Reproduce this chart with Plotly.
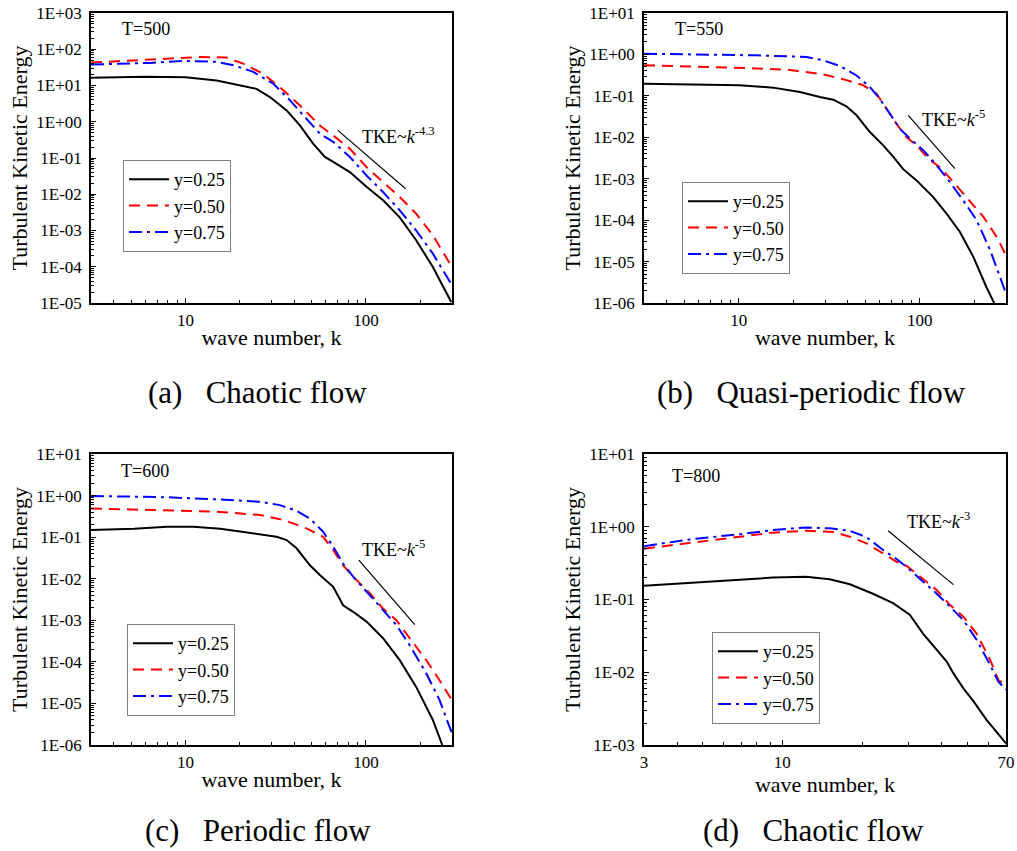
import math
import plotly.graph_objects as go

FONT = "Liberation Serif, Times New Roman, serif"
W, H = 1017, 851

# ---------------- data: turbulent kinetic energy spectra ----------------
series_names = ["y=0.25", "y=0.50", "y=0.75"]

# (a) T=500
k_a1 = [3, 6, 10, 14.9, 24.8, 29.4, 36.4, 43.1, 51, 59.3, 65.9, 81.5, 100.8, 124.5, 154, 190, 235, 297]
e_a1 = [16.4, 17.5, 17, 13.8, 8.1, 4.8, 2.05, 0.79, 0.25, 0.107, 0.078, 0.041, 0.016, 0.0068, 0.0023, 5.4e-4, 9.8e-5, 1.07e-5]
k_a2 = [3, 6.4, 12.1, 16.9, 20.9, 27, 34.9, 43.1, 55.6, 65.9, 81.5, 100.8, 124.5, 154, 190, 235, 300]
e_a2 = [43, 51, 61, 59, 40, 21, 7.4, 2.8, 0.79, 0.42, 0.18, 0.056, 0.022, 0.0084, 0.0029, 7.4e-4, 9.8e-5]
k_a3 = [3, 6.4, 9.7, 14.9, 18.5, 23.8, 30.7, 38, 46.9, 55.6, 65.9, 81.5, 100.8, 124.5, 154, 190, 235, 300]
e_a3 = [38, 42, 48, 45, 36, 23.7, 11.2, 3.9, 1.2, 0.47, 0.28, 0.107, 0.033, 0.0115, 0.0036, 0.001, 2.3e-4, 3.1e-5]

# (b) T=550
k_b1 = [3, 6.6, 10.1, 15.5, 21.8, 28.1, 33.3, 39.4, 44.8, 53.1, 62.9, 71.4, 81.1, 96.1, 118.9, 140.8, 167, 198, 234, 258]
e_b1 = [0.197, 0.19, 0.18, 0.158, 0.124, 0.094, 0.081, 0.056, 0.034, 0.0134, 0.0064, 0.0034, 0.0017, 9.1e-4, 3.6e-4, 1.44e-4, 5.2e-5, 1.3e-5, 2.4e-6, 1e-6]
k_b2 = [3, 6.6, 12.5, 19.2, 29.3, 39.4, 48.8, 57.8, 65.7, 74.6, 84.7, 96.1, 114, 129.5, 153.6, 181.6, 225, 267, 300]
e_b2 = [0.55, 0.5, 0.46, 0.42, 0.33, 0.24, 0.18, 0.113, 0.049, 0.021, 0.01, 0.0064, 0.0028, 0.0019, 8.3e-4, 3.6e-4, 1.2e-4, 3.9e-5, 1.4e-5]
k_b3 = [3, 6.6, 12.5, 23.7, 29.3, 36.2, 44.8, 53.1, 60.2, 68.5, 77.8, 88.4, 104.7, 124.2, 147, 174, 206.5, 245, 300]
e_b3 = [1.04, 1.0, 0.95, 0.87, 0.72, 0.53, 0.31, 0.163, 0.085, 0.037, 0.016, 0.0093, 0.0049, 0.0021, 8.3e-4, 3.0e-4, 1.0e-4, 1.9e-5, 1.7e-6]

# (c) T=600
k_c1 = [3, 5.2, 7.9, 11.1, 15.6, 22.8, 32, 36.4, 41.3, 49, 55.6, 65.9, 74.8, 85, 100.8, 124.5, 154, 190, 235, 265]
e_c1 = [0.148, 0.16, 0.178, 0.178, 0.16, 0.128, 0.102, 0.085, 0.054, 0.021, 0.0123, 0.0064, 0.0023, 0.0016, 9.3e-4, 3.7e-4, 1.1e-4, 2.5e-5, 4e-6, 1e-6]
k_c2 = [3, 7.9, 14.9, 25.9, 34.9, 46.9, 58, 65.9, 74.8, 85, 92.5, 105, 124.5, 147.5, 175, 216, 256, 300]
e_c2 = [0.49, 0.45, 0.41, 0.34, 0.26, 0.162, 0.102, 0.049, 0.021, 0.0112, 0.0078, 0.0045, 0.0019, 0.001, 3.7e-4, 1.1e-4, 3.6e-5, 1.2e-5]
k_c3 = [3, 7.9, 14.9, 25.9, 33.4, 41.3, 49, 58, 65.9, 74.8, 85, 100.8, 124.5, 147.5, 175, 216, 256, 300]
e_c3 = [0.98, 0.91, 0.81, 0.71, 0.59, 0.43, 0.28, 0.134, 0.059, 0.023, 0.0112, 0.0049, 0.0018, 7.7e-4, 2.5e-4, 5.3e-5, 1.2e-5, 1.9e-6]

# (d) T=800
k_d1 = [3, 4.46, 6.9, 9.2, 12.3, 15.1, 18, 22, 26.2, 30.3, 34, 38.3, 41.8, 44.2, 48.3, 52.7, 59.2, 64.6, 70]
e_d1 = [0.155, 0.17, 0.19, 0.2, 0.206, 0.19, 0.162, 0.12, 0.089, 0.062, 0.034, 0.02, 0.014, 0.0098, 0.006, 0.004, 0.0022, 0.0015, 0.00105]
k_d2 = [3, 4.46, 6.9, 9.2, 12.3, 15.6, 18, 20.8, 24, 27, 29.5, 33.1, 38.3, 43, 48.3, 54.2, 61, 65.5, 70]
e_d2 = [0.5, 0.6, 0.73, 0.83, 0.88, 0.85, 0.73, 0.59, 0.43, 0.33, 0.29, 0.206, 0.135, 0.084, 0.058, 0.034, 0.0148, 0.0078, 0.0067]
k_d3 = [3, 4.46, 6.9, 9.2, 12.3, 15.1, 18, 20.8, 24, 27, 29.5, 33.1, 38.3, 43, 48.3, 54.2, 61, 65.5, 70]
e_d3 = [0.54, 0.67, 0.79, 0.9, 0.98, 0.95, 0.88, 0.72, 0.48, 0.36, 0.28, 0.195, 0.12, 0.08, 0.052, 0.028, 0.0126, 0.0074, 0.0058]

# power-law guide lines TKE ~ k^n
guide_k = [[70, 166], [86.5, 156.7], [91.4, 186.6], [25.1, 44.3]]
guide_e0 = [0.58, 0.034, 0.028, 0.88]
guide_exp = [-4.3, -5, -5, -3]
guide_label = ["-4.3", "-5", "-5", "-3"]

temps = ["T=500", "T=550", "T=600", "T=800"]
GAP = "\u00a0\u00a0\u00a0"
captions = ["(a)" + GAP + "Chaotic flow", "(b)" + GAP + "Quasi-periodic flow",
            "(c)" + GAP + "Periodic flow", "(d)" + GAP + "Chaotic flow"]

x_ranges = [[3, 300], [3, 300], [3, 300], [3, 70]]
y_decades = [[-5, 3], [-6, 1], [-6, 1], [-3, 1]]
x_ticks = [[10, 100], [10, 100], [10, 100], [3, 10, 70]]

curves = [
    [(k_a1, e_a1), (k_a2, e_a2), (k_a3, e_a3)],
    [(k_b1, e_b1), (k_b2, e_b2), (k_b3, e_b3)],
    [(k_c1, e_c1), (k_c2, e_c2), (k_c3, e_c3)],
    [(k_d1, e_d1), (k_d2, e_d2), (k_d3, e_d3)],
]

# ---------------- styling ----------------
colors = ["#000000", "#ff0000", "#0000ff"]
dashes = ["solid", "11px,7px", "13px,5px,3px,5px"]

# panel boxes in pixels: (left, right, top, bottom)
boxes = [(91, 452, 13, 303), (644, 1006, 13, 303), (91, 452, 454, 745), (644, 1006, 454, 745)]
legend_pos = [(123, 160), (682, 182), (127, 624), (712, 632)]
temp_pos = [(0.080, 0.945), (0.080, 0.945), (0.078, 0.943), (0.072, 0.924)]
tke_pos = [(0.745, 0.579), (0.762, 0.637), (0.745, 0.676), (0.721, 0.773)]
caption_pos = [(257, 392), (811, 392), (258, 830), (813, 830)]


def exp_label(p):
    return "1E%s%02d" % ("+" if p >= 0 else "-", abs(p))


fig = go.Figure()
layout = dict(
    width=W, height=H,
    margin=dict(l=0, r=0, t=0, b=0),
    paper_bgcolor="white", plot_bgcolor="white",
    font=dict(family=FONT, color="black"),
    annotations=[],
)

for i in range(4):
    sfx = "" if i == 0 else str(i + 1)
    xa, ya = "x" + sfx, "y" + sfx
    leg = "legend" + sfx

    for j, (kk, ee) in enumerate(curves[i]):
        fig.add_trace(go.Scatter(
            x=kk, y=ee, mode="lines", name=series_names[j],
            line=dict(color=colors[j], width=2, dash=dashes[j]),
            xaxis=xa, yaxis=ya, legend=leg,
        ))

    k0, k1 = guide_k[i]
    e0 = guide_e0[i]
    e1 = e0 * (k1 / k0) ** guide_exp[i]
    fig.add_trace(go.Scatter(
        x=[k0, k1], y=[e0, e1], mode="lines", showlegend=False,
        line=dict(color="black", width=1.2), xaxis=xa, yaxis=ya,
    ))

    l, r, t, b = boxes[i]
    lo, hi = y_decades[i]
    yvals = [10.0 ** p for p in range(lo, hi + 1)]
    ytext = [exp_label(p) for p in range(lo, hi + 1)]

    axis_common = dict(
        type="log", showgrid=False, zeroline=False,
        showline=True, linecolor="black", linewidth=1.5, mirror=True,
        ticks="inside", ticklen=5, tickwidth=1, tickcolor="black",
        tickfont=dict(family=FONT, size=17, color="black"),
        minor=dict(ticks="inside", ticklen=3, tickwidth=1, tickcolor="black",
                   tickmode="linear", dtick="D1", showgrid=False),
        automargin=False,
    )
    layout["xaxis" + sfx] = dict(
        axis_common,
        domain=[l / W, r / W],
        anchor=ya,
        range=[math.log10(x_ranges[i][0]), math.log10(x_ranges[i][1])],
        tickmode="array", tickvals=x_ticks[i], ticktext=[str(v) for v in x_ticks[i]],
        ticklabelstandoff=1,
        title=dict(text="wave number, k", font=dict(family=FONT, size=22, color="black"), standoff=0),
    )
    layout["yaxis" + sfx] = dict(
        axis_common,
        domain=[1 - b / H, 1 - t / H],
        anchor=xa,
        range=[lo, hi],
        tickmode="array", tickvals=yvals, ticktext=ytext,
        ticklabelstandoff=4,
        title=dict(text="Turbulent Kinetic Energy", font=dict(family=FONT, size=22, color="black"), standoff=3),
    )

    lx, ly = legend_pos[i]
    layout[leg] = dict(
        x=lx / W, y=1 - ly / H, xref="paper", yref="paper",
        xanchor="left", yanchor="top",
        bgcolor="white", bordercolor="#808080", borderwidth=1,
        font=dict(family=FONT, size=18, color="black"),
        tracegroupgap=0, itemwidth=40,
    )

    layout["annotations"].append(dict(
        text=temps[i], xref=xa + " domain", yref=ya + " domain",
        x=temp_pos[i][0], y=temp_pos[i][1], xanchor="left", yanchor="middle",
        showarrow=False, font=dict(family=FONT, size=18, color="black"),
    ))
    layout["annotations"].append(dict(
        text="TKE~<i>k</i><sup>%s</sup>" % guide_label[i],
        xref=xa + " domain", yref=ya + " domain",
        x=tke_pos[i][0], y=tke_pos[i][1], xanchor="left", yanchor="middle",
        showarrow=False, font=dict(family=FONT, size=18, color="black"),
    ))
    cx, cy = caption_pos[i]
    layout["annotations"].append(dict(
        text=captions[i], xref="paper", yref="paper",
        x=cx / W, y=1 - cy / H, xanchor="center", yanchor="middle",
        showarrow=False, font=dict(family=FONT, size=31, color="black"),
    ))

fig.update_layout(**layout)
fig.write_html("out.html")
